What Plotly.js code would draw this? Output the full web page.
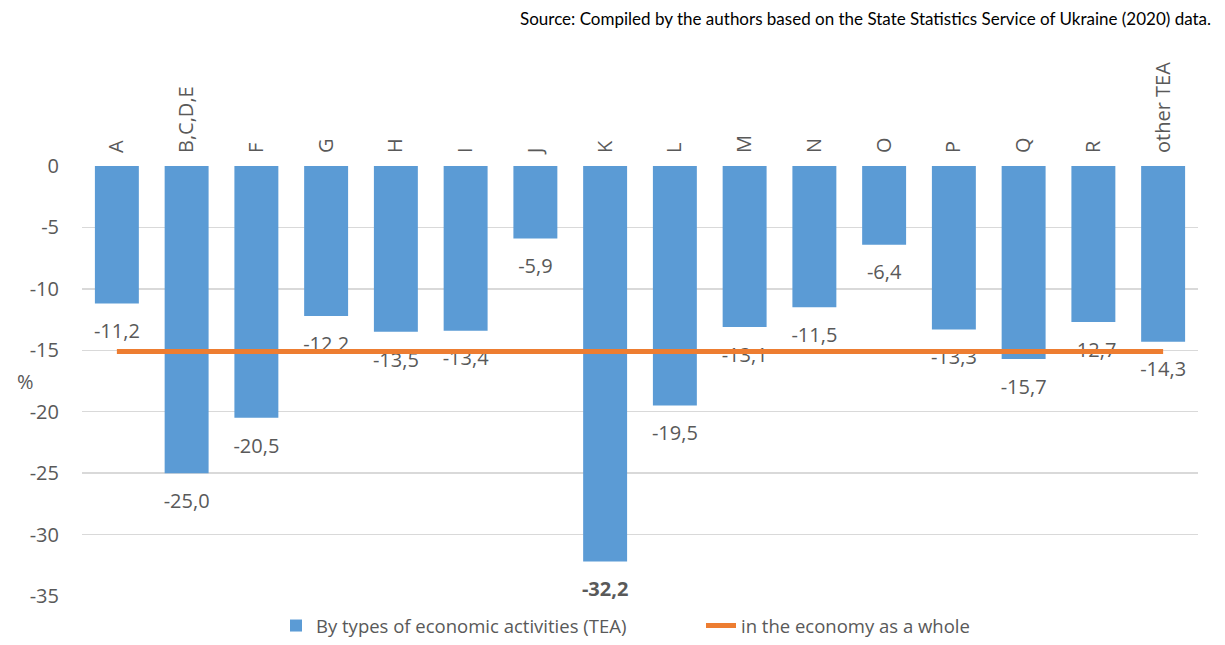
<!DOCTYPE html>
<html>
<head>
<meta charset="utf-8">
<script src="https://cdn.plot.ly/plotly-3.0.1.min.js"></script>
<style>html,body{margin:0;padding:0;background:#fff;}#chart{width:1225px;height:645px;}</style>
</head>
<body>
<div id="chart"></div>
<script>
const categories = ["A","B,C,D,E","F","G","H","I","J","K","L","M","N","O","P","Q","R","other TEA"];
const teaValues = [-11.2,-25.0,-20.5,-12.2,-13.5,-13.4,-5.9,-32.2,-19.5,-13.1,-11.5,-6.4,-13.3,-15.7,-12.7,-14.3];
const economyValue = -15.1;
const yTickVals = [0,-5,-10,-15,-20,-25,-30,-35];
const yTickText = ["0","-5","-10","-15","-20","-25","-30","-35"];
const seriesNames = ["By types of economic activities (TEA)","in the economy as a whole"];
const sourceText = "Source: Compiled by the authors based on the State Statistics Service of Ukraine (2020) data.";

const fmt = v => v.toFixed(1).replace('.', ',');
const minVal = Math.min(...teaValues);
const labelTexts = teaValues.map(v => v === minVal ? '<b>' + fmt(v) + '</b>' : fmt(v));

const FONT = '"Open Sans", "DejaVu Sans", sans-serif';
const GREY = '#595959';

const traces = [
  {
    type: 'bar', x: categories, y: teaValues, name: seriesNames[0],
    marker: {color: '#5B9BD5'}, hoverinfo: 'skip'
  },
  {
    type: 'scatter', mode: 'markers+text', x: categories, y: teaValues,
    text: labelTexts, textposition: 'bottom center',
    marker: {size: 30, opacity: 0, color: 'rgba(0,0,0,0)'},
    textfont: {family: FONT, size: 20, color: GREY},
    showlegend: false, hoverinfo: 'skip', cliponaxis: false
  },
  {
    type: 'scatter', mode: 'lines', x: categories, y: categories.map(() => economyValue),
    name: seriesNames[1], line: {color: '#ED7D31', width: 5}, hoverinfo: 'skip'
  }
];

const layout = {
  width: 1225, height: 645,
  margin: {l: 82, r: 27, t: 166, b: 49},
  paper_bgcolor: '#fff', plot_bgcolor: '#fff',
  font: {family: FONT, color: GREY},
  bargap: 0.37,
  showlegend: true,
  legend: {
    orientation: 'h', xref: 'container', yref: 'container',
    x: 276 / 1225, xanchor: 'left', y: 0.0, yanchor: 'bottom',
    font: {family: FONT, size: 18.5, color: GREY},
    traceorder: 'normal', entrywidth: 380
  },
  xaxis: {
    side: 'top', type: 'category', tickangle: -90, range: [-0.5, 15.5],
    tickfont: {family: FONT, size: 20, color: GREY},
    showgrid: false, zeroline: false, showline: false, ticks: '',
    ticklabelstandoff: 12, fixedrange: true
  },
  yaxis: {
    range: [-35, 0], tickvals: yTickVals, ticktext: yTickText,
    tickfont: {family: FONT, size: 20, color: GREY},
    showgrid: true, gridcolor: '#D9D9D9', gridwidth: 1.5,
    zeroline: false, showline: false, ticks: '',
    ticklabelstandoff: 22, fixedrange: true
  },
  annotations: [
    {
      text: sourceText, xref: 'paper', yref: 'paper', x: 1.0134, xanchor: 'right',
      y: 1.344, yanchor: 'middle',
      showarrow: false, font: {family: 'Lato, "Open Sans", sans-serif', size: 17, color: '#000'}
    },
    {
      text: '%', xref: 'paper', yref: 'paper', x: -0.051, xanchor: 'center',
      y: 0.498, yanchor: 'middle',
      showarrow: false, font: {family: FONT, size: 20, color: GREY}
    }
  ]
};

Plotly.newPlot('chart', traces, layout, {displayModeBar: false, staticPlot: true});
</script>
</body>
</html>
